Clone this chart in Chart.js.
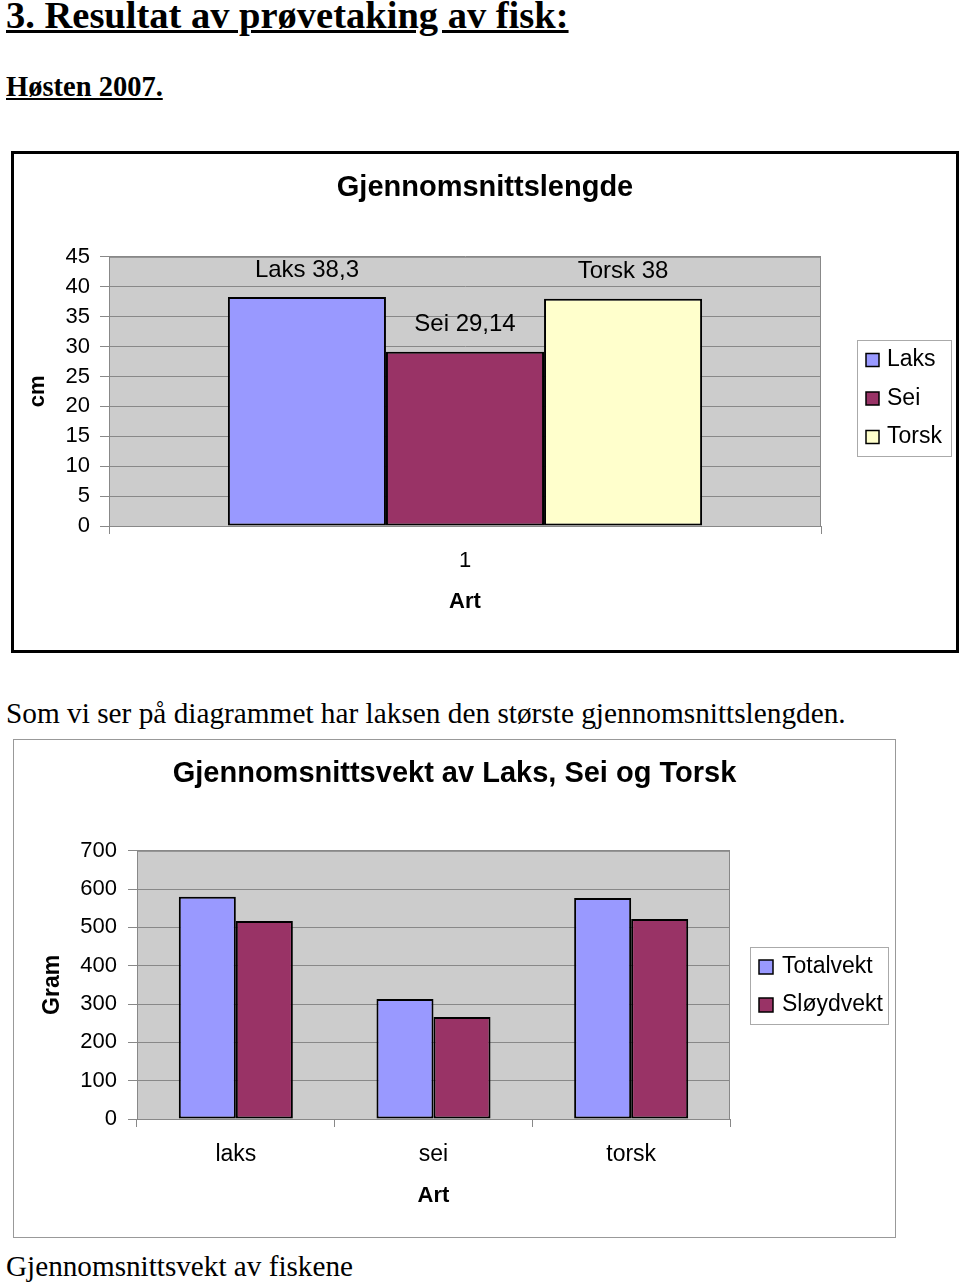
<!DOCTYPE html>
<html>
<head>
<meta charset="utf-8">
<script src="https://cdn.jsdelivr.net/npm/chart.js@4.4.1/dist/chart.umd.min.js"></script>
<style>
  body { margin: 0; width: 960px; height: 1285px; background: #fff; position: relative; overflow: hidden; }
  .txt { position: absolute; left: 6px; font-family: "Liberation Serif", serif; line-height: 1; white-space: nowrap; color: #000; }
  .frame { position: absolute; box-sizing: border-box; background: #fff; }
  .frame canvas { position: absolute; left: 0; top: 0; }
</style>
</head>
<body>
<div class="txt" style="top:-4px;font-size:38.5px;font-weight:bold;text-decoration:underline;">3. Resultat av prøvetaking av fisk:</div>
<div class="txt" style="top:73px;font-size:28.5px;font-weight:bold;text-decoration:underline;">Høsten 2007.</div>

<div class="frame" style="left:11px;top:151px;width:948px;height:502px;border:3px solid #000;">
  <canvas id="lengthChart" width="942" height="496"></canvas>
</div>

<div class="txt" style="top:699px;font-size:29.3px;">Som vi ser på diagrammet har laksen den største gjennomsnittslengden.</div>

<div class="frame" style="left:13px;top:739px;width:883px;height:499px;border:1px solid #999;">
  <canvas id="weightChart" width="881" height="497"></canvas>
</div>

<div class="txt" style="top:1252px;font-size:29.2px;">Gjennomsnittsvekt av fiskene</div>

<script>
// Gjennomsnittslengde (cm)
const lengthCategories = ["1"];
const lengthSpecies = ["Laks", "Sei", "Torsk"];
const lengthValues = [38.3, 29.14, 38];
const lengthTicks = { min: 0, max: 45, step: 5 };

// Gjennomsnittsvekt (gram)
const weightCategories = ["laks", "sei", "torsk"];
const weightSeries = ["Totalvekt", "Sløydvekt"];
const totalWeight = [580, 313, 577];
const gutWeight = [517, 266, 522];
const weightTicks = { min: 0, max: 700, step: 100 };

const lengthColors = ["#9999ff", "#993366", "#ffffcc"];
const weightColors = ["#9999ff", "#993366"];

Chart.defaults.font.family = '"Liberation Sans", Arial, sans-serif';
Chart.defaults.color = "#000";

// grå bakgrunn i plottområdet
const plotBg = {
  id: "plotBg",
  beforeDraw(chart) {
    const { ctx, chartArea: a } = chart;
    ctx.save();
    ctx.fillStyle = "#cccccc";
    ctx.fillRect(a.left, a.top, a.width, a.height);
    ctx.strokeStyle = "#888";
    ctx.lineWidth = 1;
    ctx.strokeRect(a.left + 0.5, a.top + 0.5, a.width - 1, a.height);
    ctx.restore();
  },
};

// legende med ramme
const boxLegend = {
  id: "boxLegend",
  afterDraw(chart, args, o) {
    const ctx = chart.ctx;
    ctx.save();
    ctx.fillStyle = "#fff";
    ctx.fillRect(o.x, o.y, o.w, o.h);
    ctx.strokeStyle = "#aaa";
    ctx.lineWidth = 1;
    ctx.strokeRect(o.x + 0.5, o.y + 0.5, o.w, o.h);
    ctx.font = o.size + 'px "Liberation Sans", Arial, sans-serif';
    ctx.textBaseline = "middle";
    chart.data.datasets.forEach((ds, i) => {
      const y = o.y + o.first + i * o.step;
      const s = o.swatch;
      ctx.fillStyle = ds.backgroundColor;
      ctx.fillRect(o.x + o.pad, y - s / 2, s, s);
      ctx.strokeStyle = "#000";
      ctx.lineWidth = 1.5;
      ctx.strokeRect(o.x + o.pad, y - s / 2, s, s);
      ctx.fillStyle = "#000";
      ctx.fillText(ds.label, o.x + o.textOff, y);
    });
    ctx.restore();
  },
};

// verdietiketter over søylene
const valueLabels = {
  id: "valueLabels",
  afterDatasetsDraw(chart, args, o) {
    if (!o.display) return;
    const ctx = chart.ctx;
    ctx.save();
    ctx.font = o.size + 'px "Liberation Sans", Arial, sans-serif';
    ctx.textAlign = "center";
    ctx.textBaseline = "middle";
    ctx.fillStyle = "#000";
    chart.data.datasets.forEach((ds, i) => {
      chart.getDatasetMeta(i).data.forEach((bar, j) => {
        const txt = ds.label + " " + String(ds.data[j]).replace(".", ",");
        ctx.fillText(txt, bar.x, bar.y - o.offset);
      });
    });
    ctx.restore();
  },
};

function gapAxis(w) {
  return {
    position: "right",
    display: true,
    grid: { display: false },
    border: { display: false },
    ticks: { display: false },
    afterFit(s) { s.width = w; },
  };
}

new Chart(document.getElementById("lengthChart"), {
  type: "bar",
  data: {
    labels: lengthCategories,
    datasets: lengthSpecies.map((name, i) => ({
      label: name,
      data: [lengthValues[i]],
      backgroundColor: lengthColors[i],
      borderColor: "#000",
      borderWidth: 2,
      borderSkipped: false,
      categoryPercentage: 0.666,
      barPercentage: 1,
    })),
  },
  options: {
    responsive: false,
    animation: false,
    layout: { padding: 0 },
    scales: {
      x: {
        grid: { offset: true, drawOnChartArea: false, drawTicks: true, tickLength: 8, color: "#888" },
        border: { color: "#888" },
        ticks: { padding: 14, font: { size: 22 } },
        title: { display: true, text: "Art", font: { size: 22, weight: "bold" }, padding: { top: 0, bottom: 35 } },
        afterFit(s) { s.height = 124; },
      },
      y: {
        min: lengthTicks.min,
        max: lengthTicks.max,
        ticks: { stepSize: lengthTicks.step, padding: 10, font: { size: 22 } },
        grid: { color: "#888", tickLength: 9 },
        border: { color: "#888" },
        title: { display: true, text: "cm", font: { size: 22, weight: "bold" }, padding: { top: 11, bottom: 0 } },
        afterFit(s) { s.width = 95; },
      },
      gap: gapAxis(135),
    },
    plugins: {
      legend: { display: false },
      tooltip: { enabled: false },
      title: {
        display: true,
        text: "Gjennomsnittslengde",
        font: { size: 29, weight: "bold" },
        padding: { top: 17, bottom: 51 },
      },
      valueLabels: { display: true, size: 24, offset: 27 },
      boxLegend: { x: 843, y: 186, w: 94, h: 116, pad: 9, swatch: 13, textOff: 30, first: 20, step: 38.5, size: 23 },
    },
  },
  plugins: [plotBg, valueLabels, boxLegend],
});

new Chart(document.getElementById("weightChart"), {
  type: "bar",
  data: {
    labels: weightCategories,
    datasets: [
      { label: weightSeries[0], data: totalWeight, backgroundColor: weightColors[0] },
      { label: weightSeries[1], data: gutWeight, backgroundColor: weightColors[1] },
    ].map((d) => Object.assign(d, {
      borderColor: "#000",
      borderWidth: 2,
      borderSkipped: false,
      categoryPercentage: 0.577,
      barPercentage: 1,
    })),
  },
  options: {
    responsive: false,
    animation: false,
    layout: { padding: 0 },
    scales: {
      x: {
        grid: { offset: true, drawOnChartArea: false, drawTicks: true, tickLength: 8, color: "#888" },
        border: { color: "#888" },
        ticks: { padding: 14, font: { size: 23 } },
        title: { display: true, text: "Art", font: { size: 22, weight: "bold" }, padding: { top: 0, bottom: 28 } },
        afterFit(s) { s.height = 118; },
      },
      y: {
        min: weightTicks.min,
        max: weightTicks.max,
        ticks: { stepSize: weightTicks.step, padding: 11, font: { size: 22 } },
        grid: { color: "#888", tickLength: 9 },
        border: { color: "#888" },
        title: { display: true, text: "Gram", font: { size: 23, weight: "bold" }, padding: { top: 25, bottom: 0 } },
        afterFit(s) { s.width = 123; },
      },
      gap: gapAxis(165),
    },
    plugins: {
      legend: { display: false },
      tooltip: { enabled: false },
      title: {
        display: true,
        text: "Gjennomsnittsvekt av Laks, Sei og Torsk",
        font: { size: 29, weight: "bold" },
        padding: { top: 17, bottom: 59 },
      },
      valueLabels: { display: false },
      boxLegend: { x: 736, y: 207, w: 138, h: 77, pad: 9, swatch: 14, textOff: 32, first: 20, step: 38, size: 23 },
    },
  },
  plugins: [plotBg, valueLabels, boxLegend],
});
</script>
</body>
</html>
